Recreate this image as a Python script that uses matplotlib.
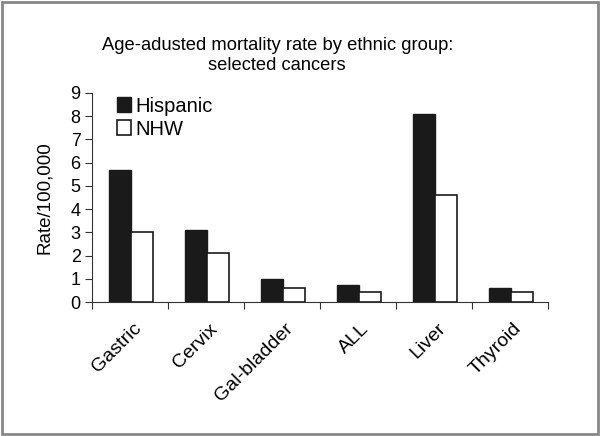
import matplotlib
matplotlib.use("Agg")
import matplotlib.pyplot as plt
import matplotlib.transforms as mtransforms
import numpy as np
from matplotlib.patches import Rectangle

plt.rcParams['font.family'] = ['Liberation Sans', 'DejaVu Sans']

cancers = ['Gastric', 'Cervix', 'Gal-bladder', 'ALL', 'Liver', 'Thyroid']
hispanic = [5.7, 3.1, 1.0, 0.75, 8.1, 0.6]
nhw = [3.0, 2.1, 0.6, 0.45, 4.6, 0.45]

fig = plt.figure(figsize=(6, 4.36), dpi=100)
ax = fig.add_axes([0.153, 0.307, 0.76, 0.48])

x = np.arange(len(cancers))
w = 0.29
ax.bar(x - w/2 + 0.02, hispanic, width=w, color='#1a1a1a', edgecolor='#1a1a1a', linewidth=1, label='Hispanic')
ax.bar(x + w/2 + 0.02, nhw, width=w, color='white', edgecolor='#1a1a1a', linewidth=1.2, label='NHW')

ax.set_xlim(-0.5, len(cancers) - 0.5)
ax.set_ylim(0, 9)
ax.set_yticks(range(0, 10))
ax.set_xticks(np.arange(-0.5, len(cancers)), [''] * (len(cancers) + 1))
ax.set_xticks(x, cancers, minor=True)
ax.tick_params(axis='x', which='minor', length=0, pad=13)
ax.tick_params(axis='x', which='major', length=5, direction='out', color='#333333')
ax.tick_params(axis='y', length=5, direction='out', color='#333333', labelsize=13, pad=3)
shift = mtransforms.ScaledTranslation(3 / 100, 0, fig.dpi_scale_trans)
for lbl in ax.get_xticklabels(minor=True):
    lbl.set_rotation(45)
    lbl.set_ha('right')
    lbl.set_rotation_mode('anchor')
    lbl.set_fontsize(14)
    lbl.set_transform(lbl.get_transform() + shift)

for s in ['top', 'right']:
    ax.spines[s].set_visible(False)
for s in ['left', 'bottom']:
    ax.spines[s].set_color('#333333')

ax.set_ylabel('Rate/100,000', fontsize=13.5, labelpad=13)
fig.text(0.462, 0.873, 'Age-adusted mortality rate by ethnic group:\nselected cancers',
         ha='center', va='center', fontsize=13.2, linespacing=1.28)

ax.legend(loc='upper left', bbox_to_anchor=(0.025, 1.05), frameon=False, fontsize=14.5,
          handlelength=0.7, handleheight=0.7, handletextpad=0.2, labelspacing=0.2, borderpad=0.2)

fig.patches.append(Rectangle((0.003, 0.004), 0.994, 0.992, transform=fig.transFigure,
                             fill=False, edgecolor='#888888', linewidth=2))

fig.savefig('out.png', dpi=100)
